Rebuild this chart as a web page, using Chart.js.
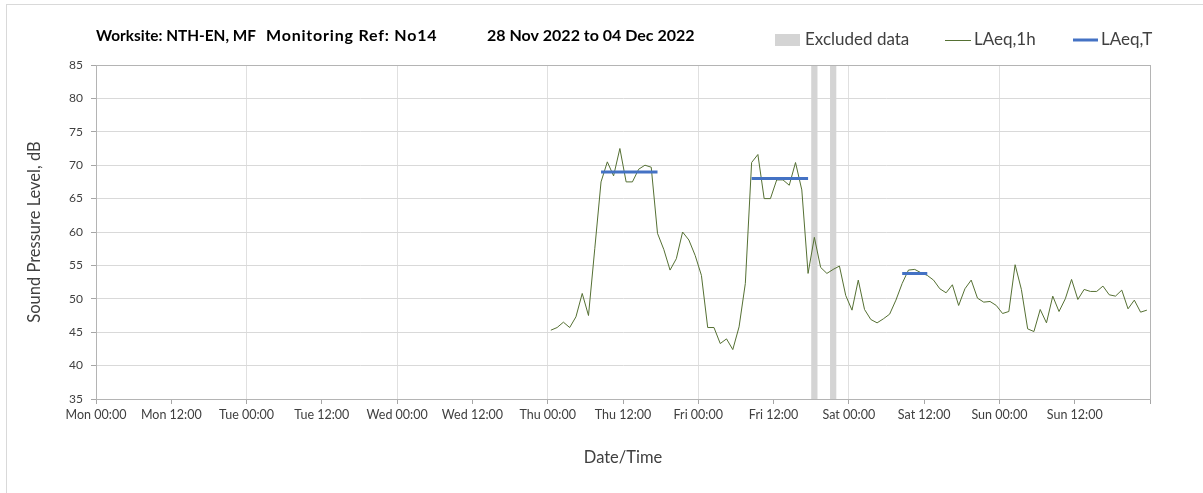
<!DOCTYPE html>
<html>
<head>
<meta charset="utf-8">
<script src="https://cdn.jsdelivr.net/npm/chart.js@4.4.0/dist/chart.umd.min.js"></script>
<style>
  html, body { margin: 0; padding: 0; background: #fff; }
  canvas { display: block; }
</style>
</head>
<body>
<canvas id="noiseChart" width="1203" height="493"></canvas>
<script>
// hourly LAeq,1h from Thu 00:00 (hour 72 of the week), one value per hour
const startHour = 72
const laeq1hThu = [45.3, 45.7, 46.5, 45.7, 47.3, 50.8, 47.5, 57.5, 67.5, 70.5, 68.4, 72.5, 67.5, 67.5, 69.4, 70.0, 69.7, 59.8, 57.4, 54.3, 56.0, 60.0, 58.8, 56.5]
const laeq1hFri = [53.5, 45.7, 45.7, 43.3, 44.0, 42.4, 45.8, 52.3, 70.4, 71.6, 65.0, 65.0, 67.8, 67.8, 67.0, 70.4, 66.3, 53.8, 59.2, 54.7, 53.8, 54.4, 54.9, 50.5]
const laeq1hSat = [48.3, 52.8, 48.4, 46.9, 46.4, 47.0, 47.7, 49.8, 52.3, 54.3, 54.4, 53.9, 53.5, 52.8, 51.5, 50.9, 52.1, 49.0, 51.5, 52.8, 50.1, 49.5, 49.6, 49.0]
const laeq1hSun = [47.8, 48.1, 55.1, 51.4, 45.5, 45.1, 48.4, 46.4, 50.4, 48.1, 50.0, 52.9, 49.9, 51.4, 51.1, 51.1, 51.9, 50.6, 50.4, 51.3, 48.5, 49.8, 48.0, 48.3]

// LAeq,T periods (hours from Mon 00:00)
const laeqTStart = [80.5, 104.5, 128.5]
const laeqTEnd = [89.5, 113.5, 132.5]
const laeqTValue = [69.0, 68.0, 53.8]

// excluded data periods (hours from Mon 00:00)
const excludedStart = [114, 117]
const excludedEnd = [115, 118]

const xTickLabels = ['Mon 00:00', 'Mon 12:00', 'Tue 00:00', 'Tue 12:00', 'Wed 00:00', 'Wed 12:00',
    'Thu 00:00', 'Thu 12:00', 'Fri 00:00', 'Fri 12:00', 'Sat 00:00', 'Sat 12:00', 'Sun 00:00', 'Sun 12:00', '']

const titleParts = ['Worksite: NTH-EN, MF', 'Monitoring Ref: No14', '28 Nov 2022 to 04 Dec 2022']

const FONT = 'Lato'
const GREEN = '#557033'
const BLUE = '#4472c4'
const GREY_BAR = '#d4d4d4'

const laeq1h = [...laeq1hThu, ...laeq1hFri, ...laeq1hSat, ...laeq1hSun]
const laeq1hPoints = laeq1h.map((v, i) => ({x: startHour + i + 0.5, y: v}))

const laeqTPoints = []
laeqTValue.forEach((v, i) => {
    laeqTPoints.push({x: laeqTStart[i], y: v}, {x: laeqTEnd[i], y: v}, {x: laeqTEnd[i] + 0.5, y: null})
})

const decorPlugin = {
    id: 'decor',
    beforeDraw(chart) {
        const ctx = chart.ctx
        ctx.save()
        ctx.fillStyle = '#fff'
        ctx.fillRect(0, 0, chart.width, chart.height)
        ctx.strokeStyle = '#d9d9d9'
        ctx.lineWidth = 1
        ctx.strokeRect(6.5, 4.5, chart.width + 20, chart.height + 20)
        ctx.restore()
    },
    beforeDatasetsDraw(chart) {
        const ctx = chart.ctx
        const x = chart.scales.x
        const area = chart.chartArea
        ctx.save()
        ctx.fillStyle = GREY_BAR
        excludedStart.forEach((s, i) => {
            const x0 = x.getPixelForValue(s)
            const x1 = x.getPixelForValue(excludedEnd[i])
            ctx.fillRect(x0, area.top, x1 - x0, area.bottom - area.top)
        })
        ctx.restore()
    },
    afterDatasetsDraw(chart) {
        const ctx = chart.ctx
        const a = chart.chartArea
        ctx.save()
        ctx.strokeStyle = '#b4b4b4'
        ctx.lineWidth = 1
        ctx.strokeRect(Math.round(a.left) + 0.5, Math.round(a.top) + 0.5, Math.round(a.right - a.left), Math.round(a.bottom - a.top))
        ctx.restore()
    },
    afterDraw(chart) {
        const ctx = chart.ctx
        ctx.save()
        // title blocks
        ctx.font = 'bold 16px ' + FONT
        ctx.fillStyle = '#000'
        ctx.textBaseline = 'middle'
        ctx.textAlign = 'left'
        const titleX = [96, 266, 487]
        const titleW = [160, 200, 215]
        const titleSpacing = ['0px', '0.8px', '0px']
        titleParts.forEach((t, i) => {
            ctx.letterSpacing = titleSpacing[i]
            ctx.fillText(t, titleX[i], 36, titleW[i])
        })
        ctx.letterSpacing = '0px'

        // legend
        ctx.font = '17px ' + FONT
        ctx.fillStyle = GREY_BAR
        ctx.fillRect(775, 34, 25, 12)
        ctx.fillStyle = '#404040'
        ctx.fillText('Excluded data', 805, 40)

        ctx.strokeStyle = GREEN
        ctx.lineWidth = 1
        ctx.beginPath()
        ctx.moveTo(945, 40.5)
        ctx.lineTo(971, 40.5)
        ctx.stroke()
        ctx.fillText('LAeq,1h', 974, 40)

        ctx.strokeStyle = BLUE
        ctx.lineWidth = 3
        ctx.beginPath()
        ctx.moveTo(1073, 40)
        ctx.lineTo(1098, 40)
        ctx.stroke()
        ctx.fillText('LAeq,T', 1101, 40)
        ctx.restore()
    }
}

const ctx = document.getElementById('noiseChart').getContext('2d')
const noiseChart = new Chart(ctx, {
    type: 'line',
    data: {
        datasets: [{
            label: 'LAeq,1h',
            data: laeq1hPoints,
            borderColor: GREEN,
            borderWidth: 1,
            pointRadius: 0,
            tension: 0,
            order: 2
        }, {
            label: 'LAeq,T',
            data: laeqTPoints,
            borderColor: BLUE,
            borderWidth: 3,
            borderCapStyle: 'butt',
            pointRadius: 0,
            spanGaps: false,
            order: 1
        }]
    },
    options: {
        responsive: false,
        animation: false,
        events: [],
        layout: {padding: {left: 6, right: 53, top: 65, bottom: 0}},
        plugins: {
            legend: {display: false},
            title: {display: false},
            tooltip: {enabled: false}
        },
        scales: {
            x: {
                type: 'linear',
                min: 0,
                max: 168,
                afterFit: (s) => { s.height = 94 },
                afterBuildTicks: (s) => {
                    s.ticks = xTickLabels.map((l, i) => ({value: i * 12}))
                },
                ticks: {
                    autoSkip: false,
                    maxRotation: 0,
                    padding: 3,
                    color: '#404040',
                    font: {family: FONT, size: 12.5},
                    callback: (v, i) => xTickLabels[i]
                },
                grid: {
                    color: (c) => (c.tick && c.tick.value % 24 === 0) ? '#e0e0e0' : 'rgba(0,0,0,0)',
                    tickColor: '#a6a6a6',
                    tickLength: 5
                },
                border: {color: '#a6a6a6'},
                title: {
                    display: true,
                    text: 'Date/Time',
                    color: '#404040',
                    font: {family: FONT, size: 16.5},
                    padding: {top: 0, bottom: 25}
                }
            },
            y: {
                min: 35,
                max: 85,
                afterFit: (s) => { s.width = 90 },
                ticks: {
                    stepSize: 5,
                    padding: 8,
                    color: '#404040',
                    font: {family: FONT, size: 12}
                },
                grid: {
                    color: '#d9d9d9',
                    tickColor: '#a6a6a6',
                    tickLength: 5
                },
                border: {color: '#a6a6a6'},
                title: {
                    display: true,
                    text: 'Sound Pressure Level, dB',
                    color: '#404040',
                    font: {family: FONT, size: 16.5},
                    padding: {top: 19, bottom: 0}
                }
            }
        }
    },
    plugins: [decorPlugin]
})
</script>
</body>
</html>
